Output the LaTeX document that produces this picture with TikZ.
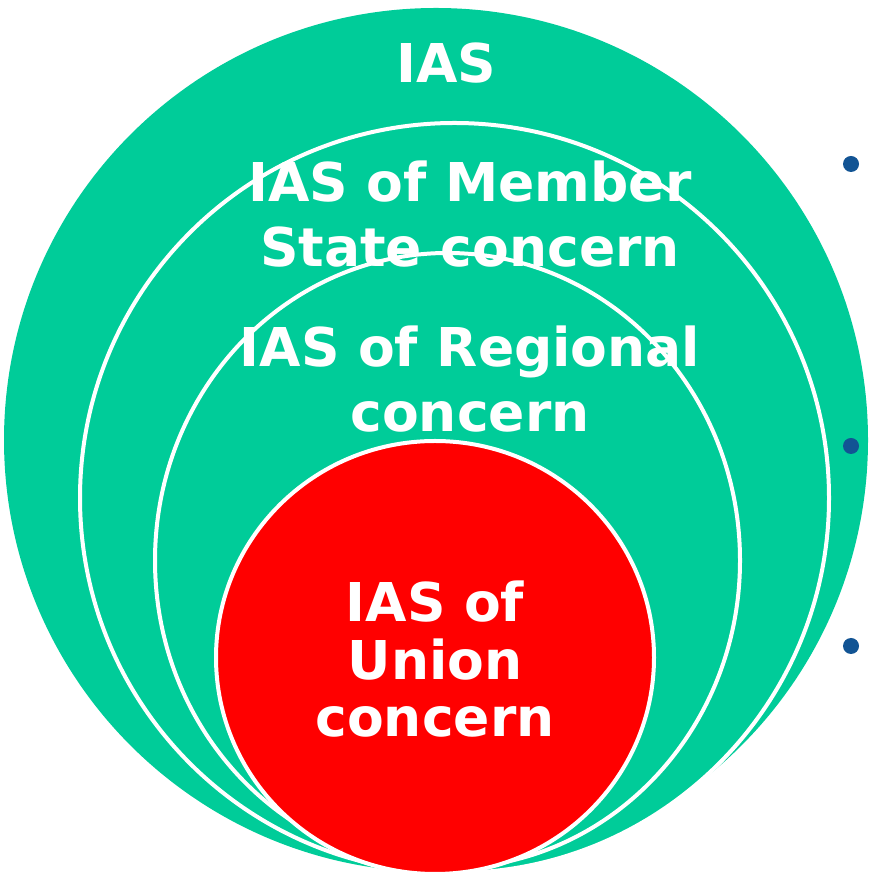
\documentclass[tikz,border=0pt]{standalone}
\usepackage{fontspec}
\setmainfont{DejaVu Sans}
\definecolor{teal1}{RGB}{0,204,153}
\definecolor{redc}{RGB}{255,0,0}
\definecolor{dotblue}{RGB}{18,84,148}
\begin{document}
\begin{tikzpicture}[x=1pt,y=1pt,
  ring/.style={fill=teal1,draw=white,line width=4pt},
  lbl/.style={text=white,font=\bfseries\fontsize{53.5}{65}\selectfont,align=center,inner sep=0pt,anchor=base},
  lblred/.style={lbl,font=\bfseries\fontsize{53.5}{57.5}\selectfont},
  bullet/.style={fill=dotblue,draw=none}]
\useasboundingbox (0,0) rectangle (869,874);
% outer circle
\fill[teal1] (436,434) circle[radius=432];
% second circle
\draw[ring] (454.5,376) ellipse[x radius=374.5,y radius=375];
% third circle
\draw[ring] (447.5,313.5) ellipse[x radius=292.5,y radius=307.5];
% red circle
\draw[fill=redc,draw=white,line width=4pt] (435,216.5) ellipse[x radius=219,y radius=216.5];
% labels (base anchor = baseline of last line)
\node[lbl] (ias) at (446.5,791) {IAS};
\node[lbl] (ms) at (470,607) {IAS of Member\\State concern};
\node[lbl] (reg) at (470,442) {IAS of Regional\\concern};
\node[lblred] (un) at (435,137) {IAS of\\Union\\concern};
% bullets
\fill[bullet] (851,710) circle[radius=8];
\fill[bullet] (851,428) circle[radius=8];
\fill[bullet] (851,228) circle[radius=8];
\end{tikzpicture}
\end{document}
